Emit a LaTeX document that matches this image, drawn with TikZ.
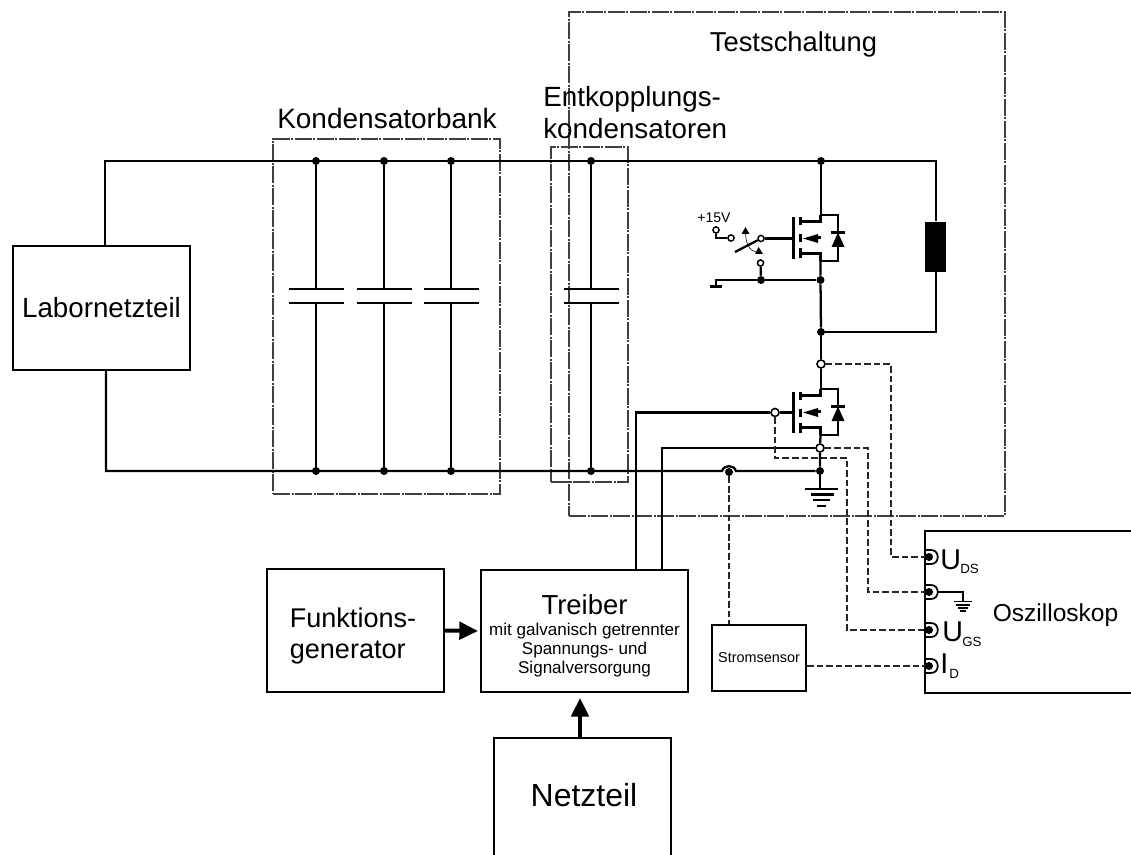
\documentclass[tikz,border=0pt]{standalone}
\usepackage{fontspec}
\setmainfont{Liberation Sans}
\usetikzlibrary{arrows.meta,calc}
\newcommand{\fs}[1]{\fontsize{#1}{#1}\selectfont}
\tikzset{
  x=0.75pt,y=-0.75pt,
  wire/.style={draw=black,line width=1.7pt},
  thinwire/.style={draw=black,line width=0.9pt},
  sigwire/.style={draw=black!85,line width=0.95pt,dash pattern=on 5pt off 2.2pt},
  frame/.style={draw=black!75,line width=0.8pt,dash pattern=on 13pt off 1pt on 1.5pt off 1pt},
  box/.style={draw=black,line width=1.5pt,align=center,inner sep=0pt},
  lbl/.style={inner sep=0pt,align=center},
  jdot/.style={circle,fill=black,inner sep=0pt,minimum size=6pt},
  odot/.style={circle,draw=black,fill=white,line width=1.2pt,inner sep=0pt,minimum size=6pt},
  sdot/.style={circle,draw=black,fill=white,line width=1.1pt,inner sep=0pt,minimum size=4.6pt},
  thick arrow/.style={line width=3pt,-{Triangle[length=14pt,width=13pt]}},
  mosfet/.pic={
    \draw[wire] (0,-23.5) -- (17.5,-23.5) -- (17.5,22.5) -- (0,22.5);
    \draw[wire] (0,-23.5) -- (0,-17) -- (-20,-17);
    \draw[wire] (0,22.5) -- (0,15) -- (-20,15);
    \draw[wire] (0,-1) -- (-3,-1);
    \draw[wire] (-27,-21) -- (-27,20.5);
    \draw[wire] (-20,-21) -- (-20,-13);
    \draw[wire] (-20,-4) -- (-20,4);
    \draw[wire] (-20,10) -- (-20,20);
    \fill (-17.5,0) -- (-2.5,-4.5) -- (-2.5,4.5) -- cycle;
    \draw[wire] (10.5,-6) -- (24.5,-6);
    \fill (17.5,-6) -- (11,8.5) -- (24,8.5) -- cycle;
  },
}
\begin{document}
\begin{tikzpicture}
\useasboundingbox (0,0) rectangle (1131,855);

% frames
\node[frame,minimum width=170.25pt,minimum height=266.25pt,inner sep=0pt] (kbank) at (386.5,316.5) {};
\node[frame,minimum width=57.75pt,minimum height=251.25pt,inner sep=0pt] (ebank) at (589.5,314.5) {};
\node[frame,minimum width=327pt,minimum height=378pt,inner sep=0pt] (test) at (787,264) {};

% titles
\node[lbl,anchor=base,font=\fs{20.5pt}] (ttest) at (793.5,52) {Testschaltung};
\node[lbl,font=\fs{21pt}] (tkond) at (387,118) {Kondensatorbank};
\node[lbl,anchor=west,font=\fs{20.85pt},align=left] (tent) at (543,112.5) {Entkopplungs-\\[2.75pt]kondensatoren};

% main boxes
\node[box,minimum width=132.75pt,minimum height=93pt,font=\fs{20.8pt}] (lab) at (101.5,308) {Labornetzteil};
\node[box,minimum width=132.75pt,minimum height=92.25pt,font=\fs{20.3pt},align=left] (fg) at (355.5,630.5) {\rule{0pt}{22.3pt}Funktions-\hspace*{3.75pt}\\[2.95pt]generator};
\node[box,minimum width=155.25pt,minimum height=91.5pt,font=\fs{12.8pt}] (tr) at (584.5,631) {\rule{0pt}{21.5pt}{\fs{20.6pt}Treiber}\\[2.95pt]mit galvanisch getrennter\\[1.45pt]Spannungs- und\\[1.45pt]Signalversorgung};
\node[box,minimum width=70.5pt,minimum height=49.5pt,font=\fs{10.8pt}] (ss) at (759,658) {Stromsensor};

% Netzteil and Oszilloskop run off the page
\coordinate (nt) at (580,738);
\draw[wire,line width=1.5pt] (494,855) -- (494,738) -- (nt) -- (671,738) -- (671,855);
\node[lbl,font=\fs{24pt}] (ntl) at (584,795) {Netzteil};
\coordinate (osw) at (925,531);
\draw[wire,line width=1.5pt] (1131,531) -- (osw) -- (925,693) -- (1131,693);
\node[lbl,anchor=base,font=\fs{18.4pt}] (osl) at (1055.5,621) {Oszilloskop};

% bus junctions
\coordinate (tl) at (105,161);
\coordinate (bl) at (106,471);
\coordinate (tr1) at (936,161);
\foreach \n/\x in {a/316,b/384,c/451,d/591}{
  \node[jdot] (t\n) at (\x,161) {};
  \node[jdot] (b\n) at (\x,471) {};
  \coordinate (p\n) at (\x,289);
  \coordinate (q\n) at (\x,303);
  \draw[wire] (t\n) -- (p\n);
  \draw[wire] (q\n) -- (b\n);
  \draw[wire] ($(p\n)+(-27,0)$) -- ($(p\n)+(28,0)$);
  \draw[wire] ($(q\n)+(-27,0)$) -- ($(q\n)+(28,0)$);
}
\node[jdot] (td) at (821,161) {};
\node[jdot] (mid) at (821,332) {};
\node[jdot] (bg) at (820,471) {};

% bus
\draw[wire] (lab.north -| tl) -- (tl) -- (tr1) -- (936,221);
\draw[wire] (lab.south -| bl) -- (bl) -- (722,471) .. controls (724,464.5) and (734,464.5) .. (736,471) -- (bg);

% load
\node[draw=black,fill=black,inner sep=0pt,minimum width=15pt,minimum height=37pt] (load) at (935.5,246.5) {};
\draw[wire] (load.south -| tr1) |- (mid);

% upper MOSFET
\pic at (820.5,238.5) {mosfet};
\draw[wire] (td) -- (821,215);
\node[jdot] (gu) at (820.5,280) {};
\node[jdot] (gs) at (761,280) {};
\draw[wire] (820.5,261) -- (gu) -- (mid);
\draw[wire] (gu) -- (gs) -- (716,280) -- (716,286);
\draw[wire] (710,286.5) -- (722,286.5);
\node[sdot] (s1) at (761,238.5) {};
\draw[wire] (s1) -- (793.5,238.5);
\node[sdot] (s2) at (731,238) {};
\node[sdot] (s3) at (716,230) {};
\draw[wire] (s3) |- (s2);
\node[sdot] (s4) at (760.5,263) {};
\draw[wire] (s4) -- (gs);
\coordinate (swa) at (735,252);
\draw[wire] (swa) -- (s1);
\node[lbl,anchor=base,font=\fs{10.5pt}] (v15) at (714,223) {+15V};
\draw[black,line width=0.4pt] (748,245) .. controls (746,241) and (746,238) .. (745.5,234);
\draw[black,line width=0.4pt] (748,245) .. controls (750,250) and (753,251) .. (756,252);
\fill (745.5,227) -- (741.5,234) -- (749.5,234) -- cycle;
\fill (758.5,247) -- (755,254) -- (763,254) -- cycle;

% lower MOSFET
\pic at (820.5,412.5) {mosfet};
\node[odot] (d2) at (821,364) {};
\node[odot] (s5) at (820,448) {};
\node[odot] (g2) at (775,412.5) {};
\draw[wire] (mid) -- (d2) -- (821,389);
\draw[wire] (820.5,435) -- (s5) -- (bg);
\draw[wire] (g2) -- (793.5,412.5);

% ground
\coordinate (gnd) at (820,489);
\draw[wire] (bg) -- (gnd);
\draw[wire] (805,489) -- (838,489);
\draw[wire] (811,494.5) -- (834,494.5);
\draw[wire] (813,500) -- (830,500);
\draw[wire] (817,506) -- (826,506);

% driver lines
\draw[wire] (636,570) |- (g2);
\draw[wire] (662,570) |- (s5);

% current probe
\node[jdot] (probe) at (729,472) {};
\draw[sigwire] (probe) -- (ss.north -| probe);

% arrows
\draw[thick arrow,shorten >=1.5pt] (fg.east) -- (tr.west);
\draw[thick arrow,shorten >=3.75pt] (nt) -- (tr.south -| nt);

% scope channels
\foreach \y in {557,592,630,666}{
  \node[jdot] (ch\y) at (929,\y) {};
  \draw[line width=1.3pt] (925,\y-7) -- (931,\y-7) .. controls (940,\y-7) and (940,\y+7) .. (931,\y+7) -- (925,\y+7);
}
\draw[sigwire] (d2) -- (891,364) -- (891,557) -- (925,557);
\draw[sigwire] (s5) -- (868,448) -- (868,592) -- (925,592);
\draw[sigwire] (g2) -- (775,458) -- (847,458) -- (847,630) -- (925,630);
\draw[sigwire] (ss.east |- 0,666) -- (925,666);

% scope ground
\coordinate (sg) at (963,601);
\draw[thinwire] (937,592) -- (963,592) -- (sg);
\draw[thinwire] (954,601.5) -- (972,601.5);
\draw[thinwire] (956,605) -- (970,605);
\draw[thinwire] (958,608) -- (968,608);
\draw[thinwire] (960,611) -- (966,611);

% channel labels
\node[lbl,anchor=base west,font=\fs{21.5pt}] (lu1) at (940,569) {U};
\node[lbl,anchor=base west,font=\fs{10pt}] (lu1s) at (960,573) {DS};
\node[lbl,anchor=base west,font=\fs{21.5pt}] (lu2) at (942,641) {U};
\node[lbl,anchor=base west,font=\fs{10pt}] (lu2s) at (962,646) {GS};
\node[lbl,anchor=base west,font=\fs{21.5pt}] (li) at (940,673) {I};
\node[lbl,anchor=base west,font=\fs{10pt}] (lis) at (949,678) {D};
\end{tikzpicture}
\end{document}
